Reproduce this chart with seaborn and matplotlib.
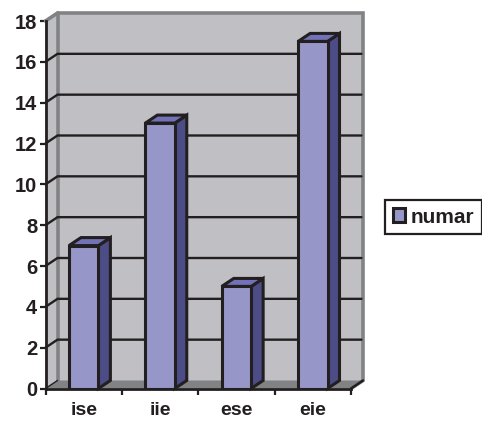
import matplotlib
matplotlib.use("Agg")
import matplotlib.pyplot as plt
from matplotlib.patches import Polygon
import pandas as pd
import seaborn as sns

categories = ["ise", "iie", "ese", "eie"]
numar = [7, 13, 5, 17]
y_ticks = list(range(0, 20, 2))

WALL = "#C0C0C4"
FLOOR = "#808284"
FRONT = "#9696C8"
SIDE = "#4C4C86"
TOP = "#7272B6"
INK = "#231F20"

W, H = 482, 421
sns.set_theme(style="white")
plt.rcParams["font.family"] = ["Liberation Sans", "DejaVu Sans"]
plt.rcParams["font.weight"] = "bold"

fig = plt.figure(figsize=(W / 100, H / 100), dpi=100, facecolor="white")
ax = fig.add_axes([45.5 / W, 1 - 388.5 / H, 305.5 / W, 367.5 / H])
ax.set_xlim(-0.5, 3.5)
ax.set_ylim(0, 18)
ax.patch.set_alpha(0)

# Oblique depth of the box, in data units
px_x = 305.5 / 4
px_y = 367.5 / 18
DX = 12 / px_x
DY = 8 / px_y
xl, xr = -0.5, 3.5


def poly(points, face, edge="none", lw=0, z=1):
    ax.add_patch(Polygon(points, closed=True, facecolor=face, edgecolor=edge,
                         linewidth=lw, zorder=z, clip_on=False, joinstyle="miter"))


# Back wall, side wall and floor
poly([(xl + DX, DY), (xr + DX, DY), (xr + DX, 18 + DY), (xl + DX, 18 + DY)], WALL, z=0.5)
poly([(xl, 0), (xl + DX, DY), (xl + DX, 18 + DY), (xl, 18)], WALL, z=0.5)
poly([(xl, 0), (xr, 0), (xr + DX, DY), (xl + DX, DY)], FLOOR, z=0.6)

# Wall rim
ax.plot([xl, xl + DX, xr + DX, xr + DX, xr], [18, 18 + DY, 18 + DY, DY, 0],
        color=FLOOR, lw=2.6, clip_on=False, zorder=0.8, solid_joinstyle="miter")
ax.plot([xl + DX, xl + DX], [DY, 18 + DY], color=FLOOR, lw=2.6, clip_on=False, zorder=0.8)
ax.plot([xr, xr + DX], [0, DY], color=INK, lw=1.8, clip_on=False, zorder=0.9)
ax.plot([xl, xl + DX], [0, DY], color=INK, lw=1.0, clip_on=False, zorder=0.9)

# Gridlines fold from the side wall onto the back wall
for t in y_ticks[1:-1]:
    ax.plot([xl, xl + DX, xr + DX - 0.02], [t, t + DY, t + DY], color=INK, lw=1.7,
            clip_on=False, zorder=1, solid_joinstyle="miter")

frame = pd.DataFrame({"category": categories, "numar": numar})
sns.barplot(data=frame, x="category", y="numar", color=FRONT, saturation=1, width=0.385,
            edgecolor=INK, linewidth=2.2, label="numar", ax=ax, zorder=3)
ax.set_xlim(xl, xr)
ax.set_ylim(0, 18)

# Side and top faces of each column
for bar in ax.containers[0]:
    x0, x1, h = bar.get_x(), bar.get_x() + bar.get_width(), bar.get_height()
    poly([(x1, 0), (x1 + DX, DY), (x1 + DX, h + DY), (x1, h)], SIDE, INK, 2.2, 2)
    poly([(x0, h), (x1, h), (x1 + DX, h + DY), (x0 + DX, h + DY)], TOP, INK, 2.2, 2)

# Axes
for name in ("top", "right"):
    ax.spines[name].set_visible(False)
for name in ("left", "bottom"):
    ax.spines[name].set_color(INK)
    ax.spines[name].set_linewidth(2.0)
    ax.spines[name].set_zorder(5)

ax.set_xlabel("")
ax.set_ylabel("")
ax.set_yticks(y_ticks)
ax.set_xticks(range(len(categories)))
ax.set_xticklabels(categories)
ax.set_xticks([-0.5, 0.5, 1.5, 2.5, 3.5], minor=True)
ax.tick_params(axis="y", which="major", left=True, length=4.5, width=1.6, color=INK,
               labelsize=14.5, labelcolor=INK, pad=1.5)
ax.tick_params(axis="x", which="major", bottom=False, labelsize=14, labelcolor=INK, pad=3.5)
ax.tick_params(axis="x", which="minor", bottom=True, length=4.5, width=1.6, color=INK)

# Legend
if ax.get_legend() is not None:
    ax.get_legend().remove()
handles, labels = ax.get_legend_handles_labels()
leg = fig.legend(handles[:1], labels[:1], loc="center left",
                 bbox_to_anchor=(385 / W, 1 - 217 / H), frameon=True, fancybox=False,
                 edgecolor=INK, facecolor="white", framealpha=1, fontsize=15,
                 handlelength=0.62, handleheight=0.62, handletextpad=0.24,
                 borderpad=0.36, borderaxespad=0)
leg.get_frame().set_linewidth(1.6)
for text in leg.get_texts():
    text.set_color(INK)

fig.savefig("out.png", dpi=100)
